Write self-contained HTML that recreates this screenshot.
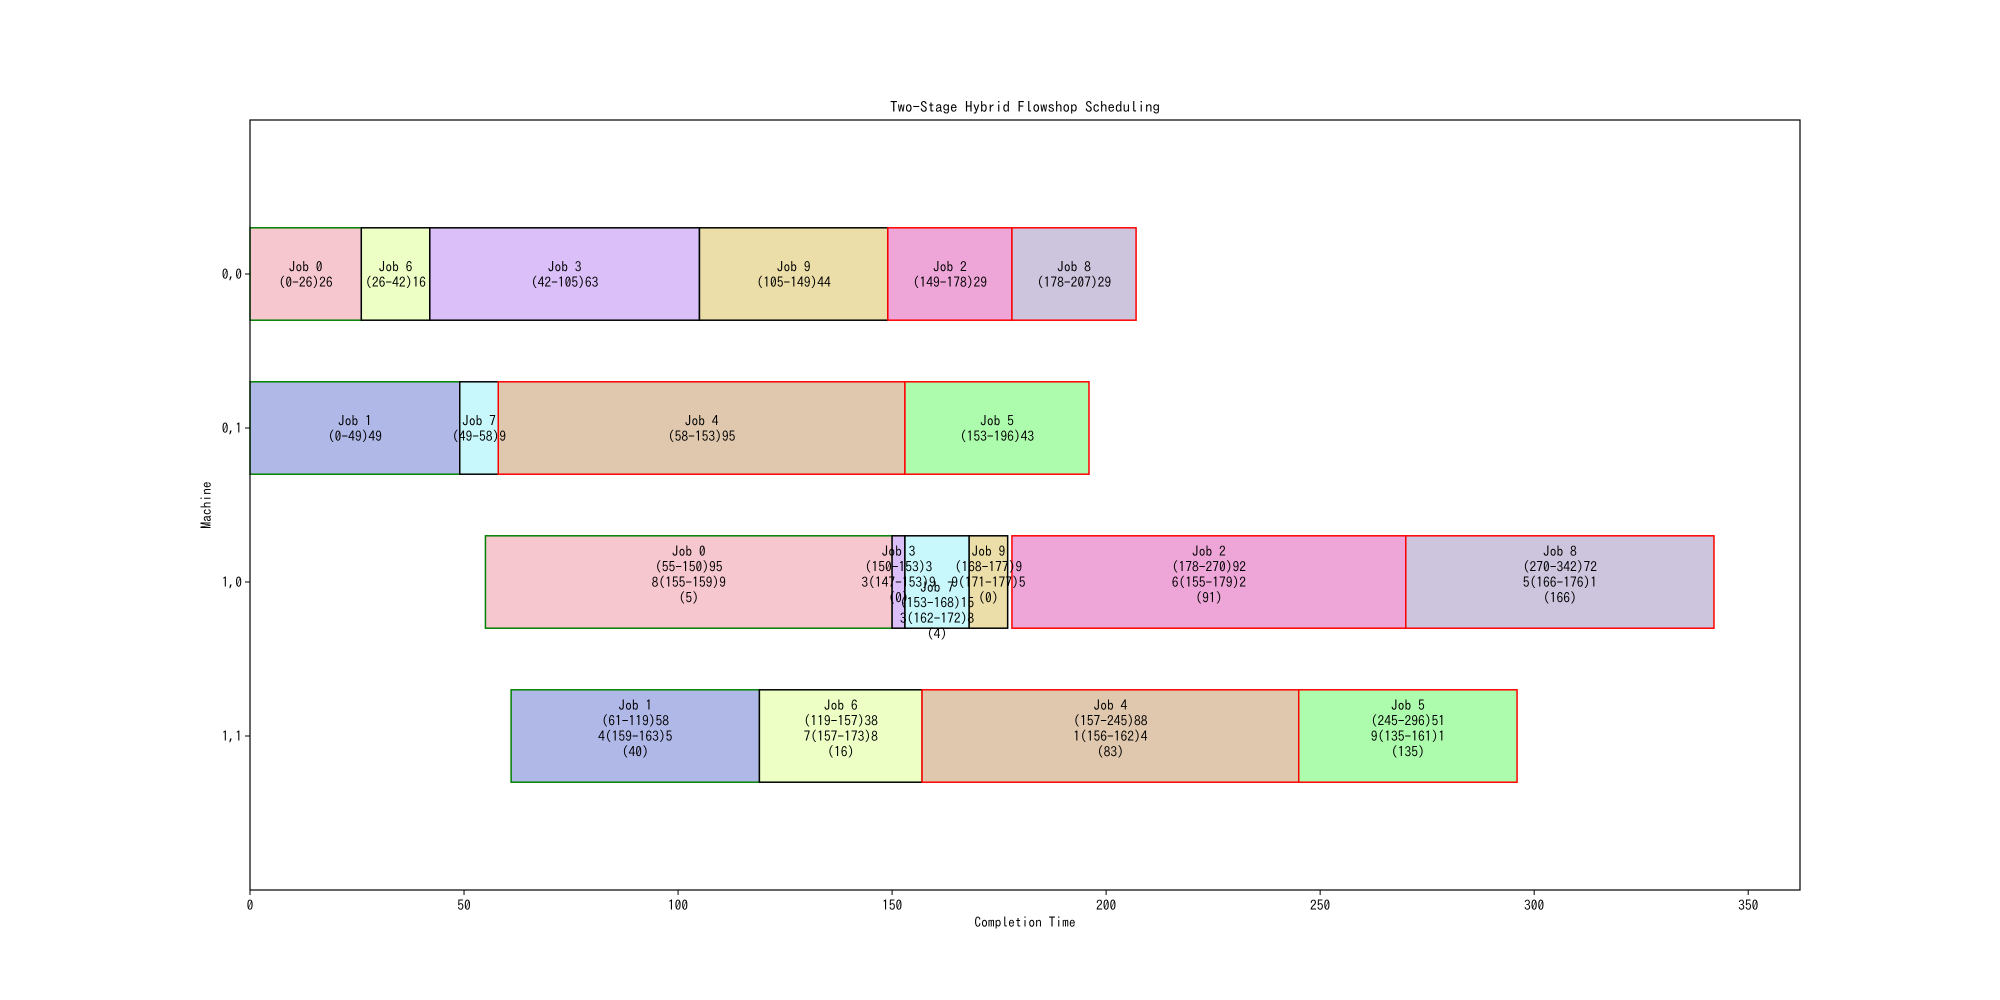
<!DOCTYPE html>
<html><head><meta charset="utf-8"><style>
html,body{margin:0;padding:0;background:#fff}
svg{display:block;font-family:"IPAGothic","WenQuanYi Zen Hei","Liberation Sans",sans-serif}
</style></head><body>
<svg id="chart" width="2000" height="1000" viewBox="0 0 2000 1000" xmlns="http://www.w3.org/2000/svg"></svg>
<script>
const machines = ["0,0","0,1","1,0","1,1"];
const rowIndex = [0,0,0,0,0,0, 1,1,1,1, 2,2,2,2,2,2, 3,3,3,3];
const jobs =     [0,6,3,9,2,8, 1,7,4,5, 0,3,7,9,2,8, 1,6,4,5];
const starts =   [0,26,42,105,149,178, 0,49,58,153, 55,150,153,168,178,270, 61,119,157,245];
const ends =     [26,42,105,149,178,207, 49,58,153,196, 150,153,168,177,270,342, 119,157,245,296];
const edges =    ["g","k","k","k","r","r", "g","k","r","r", "g","k","k","k","r","r", "g","k","r","r"];
const extra1 =   ["","","","","","", "","","","", "8(155-159)9","3(147-153)9","3(162-172)8","9(171-177)5","6(155-179)2","5(166-176)1", "4(159-163)5","7(157-173)8","1(156-162)4","9(135-161)1"];
const extra2 =   ["","","","","","", "","","","", "(5)","(0)","(4)","(0)","(91)","(166)", "(40)","(16)","(83)","(135)"];
const xTicks = [0,50,100,150,200,250,300,350];
const jobColors = {0:"#f7c7d0",1:"#b0b8e8",2:"#eea6d8",3:"#dabff8",4:"#e0c8ae",5:"#adfcad",6:"#eeffc6",7:"#c8f8fc",8:"#cdc5dd",9:"#ebdea8"};
const edgeColors = {g:"#008000",k:"#000000",r:"#ff0000"};

const L=250,R=1800,T=120,B=890,XMAX=362.1,YMAX=5;
const xs=v=>L+(v/XMAX)*(R-L);
const ys=v=>B-(v/YMAX)*(B-T);
const svg=document.getElementById('chart');
const NS="http://www.w3.org/2000/svg";
function mk(tag,attrs,parent){const e=document.createElementNS(NS,tag);for(const k in attrs)e.setAttribute(k,attrs[k]);(parent||svg).appendChild(e);return e;}

let t=mk('text',{x:1025,y:112,'text-anchor':'middle','font-size':15});
t.textContent="Two-Stage Hybrid Flowshop Scheduling";



for(let i=0;i<jobs.length;i++){
  const yc=ys(4-rowIndex[i]);
  const h=0.6*(B-T)/YMAX;
  const r=mk('rect',{x:xs(starts[i]),y:yc-h/2,width:xs(ends[i])-xs(starts[i]),height:h,fill:jobColors[jobs[i]],stroke:edgeColors[edges[i]],'stroke-width':1.5});
  
  
}
for(let i=0;i<jobs.length;i++){
  const yc=ys(4-rowIndex[i]);
  const lines=["Job "+jobs[i],"("+starts[i]+"-"+ends[i]+")"+(ends[i]-starts[i])];
  if(extra1[i])lines.push(extra1[i]);
  if(extra2[i])lines.push(extra2[i]);
  const lh=15.5;
  let dy = lines.length>2 ? -8 : 0;
  if(rowIndex[i]===2 && jobs[i]===7) dy=28;
  const cx=(xs(starts[i])+xs(ends[i]))/2;
  const top=yc+dy-(lines.length-1)*lh/2;
  const tx=mk('text',{'text-anchor':'middle','font-size':13.5});
  
  
  lines.forEach((s,k)=>{const sp=mk('tspan',{x:cx,y:top+k*lh+5},tx);sp.textContent=s;});
}
const fr=mk('rect',{x:L,y:T,width:R-L,height:B-T,fill:'none',stroke:'#000','stroke-width':1.2});


xTicks.forEach(v=>{
  mk('line',{x1:xs(v),x2:xs(v),y1:B,y2:B+5,stroke:'#000'});
  const tl=mk('text',{x:xs(v),y:B+20,'text-anchor':'middle','font-size':13.5});
  tl.textContent=v;
  
  
});
machines.forEach((m,k)=>{
  const y=ys(4-k);
  mk('line',{x1:L-5,x2:L,y1:y,y2:y,stroke:'#000'});
  const tl=mk('text',{x:L-8,y:y+5,'text-anchor':'end','font-size':13.5});
  tl.textContent=m;
  
  
});
const xl=mk('text',{x:1025,y:927,'text-anchor':'middle','font-size':13.5});
xl.textContent="Completion Time";


const yl=mk('text',{x:0,y:0,'text-anchor':'middle','font-size':13.5,transform:'translate(211,505) rotate(-90)'});
yl.textContent="Machine";


</script>
</body></html>
